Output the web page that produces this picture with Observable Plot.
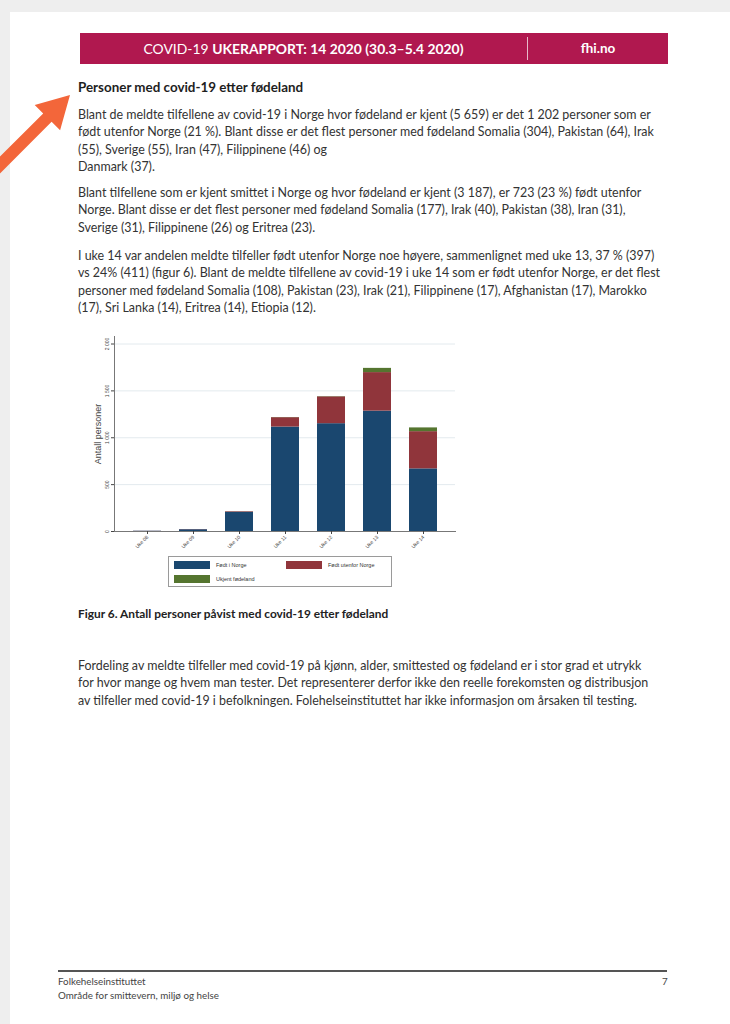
<!DOCTYPE html>
<html lang="no">
<head>
<meta charset="utf-8">
<script src="https://cdn.jsdelivr.net/npm/d3@7"></script>
<script src="https://cdn.jsdelivr.net/npm/@observablehq/plot@0.6"></script>
<style>
  html, body { margin: 0; padding: 0; }
  body { width: 730px; height: 1024px; position: relative; overflow: hidden; background: #fff;
         font-family: Lato, "Open Sans", sans-serif; color: #333; }
  .abs { position: absolute; white-space: nowrap; }
  .band-top { left: 0; top: 0; width: 730px; height: 12px; background: #eeeeee; }
  .band-left { left: 0; top: 0; width: 10px; height: 1024px; background: #eeeeee; }
  .header { left: 80px; top: 33px; width: 588px; height: 31px; background: #b0184f; color: #fff; }
  .header .title { position: absolute; left: 0; width: 447px; top: 0; line-height: 31px; text-align: center; font-size: 13.9px; }
  .header .title b { font-weight: 700; }
  .header .sep { position: absolute; left: 447px; top: 4px; width: 1px; height: 23px; background: rgba(255,255,255,0.7); }
  .header .site { position: absolute; left: 448px; width: 140px; top: 0; line-height: 31px; text-align: center; font-size: 13.5px; font-weight: 700; }
  h2 { margin: 0; font-size: 13.4px; font-weight: 700; color: #1e1e1e; }
  .para { font-size: 12.45px; line-height: 17.3px; color: #333; }
  .caption { font-size: 11.9px; font-weight: 700; color: #222; }
  .footer-rule { left: 58px; top: 970px; width: 609px; height: 2px; background: #555; }
  .footer { font-size: 9.8px; color: #444; }
  #legend { left: 168px; top: 556px; width: 224px; height: 31px; border: 1px solid #9a9a9a; box-sizing: border-box; background: #fff; }
  #legend .item { position: absolute; display: flex; align-items: center; font-family: "Liberation Sans", Arial, sans-serif; font-size: 5.5px; color: #333; }
  #legend .sw { width: 36px; height: 8px; margin-right: 6px; }
</style>
</head>
<body>
<div class="abs band-top"></div>
<div class="abs band-left"></div>

<div class="abs header">
  <div class="title">COVID-19 <b>UKERAPPORT: 14 2020 (30.3–5.4 2020)</b></div>
  <div class="sep"></div>
  <div class="site">fhi.no</div>
</div>

<svg class="abs" style="left:0;top:0" width="90" height="190" viewBox="0 0 90 190">
  <polygon fill="#f3663a" points="-5,161.6 43.2,113.4 34.7,104.9 70,95 60.1,130.3 51.6,121.8 -5,178.4"/>
</svg>

<div class="abs" style="left:78px;top:79px"><h2>Personer med covid-19 etter fødeland</h2></div>

<div class="abs para" style="left:78px;top:106px">Blant de meldte tilfellene av covid-19 i Norge hvor fødeland er kjent (5 659) er det 1 202 personer som er<br>født utenfor Norge (21 %). Blant disse er det flest personer med fødeland Somalia (304), Pakistan (64), Irak<br>(55), Sverige (55), Iran (47), Filippinene (46) og<br>Danmark (37).</div>

<div class="abs para" style="left:78px;top:184px">Blant tilfellene som er kjent smittet i Norge og hvor fødeland er kjent (3 187), er 723 (23 %) født utenfor<br>Norge. Blant disse er det flest personer med fødeland Somalia (177), Irak (40), Pakistan (38), Iran (31),<br>Sverige (31), Filippinene (26) og Eritrea (23).</div>

<div class="abs para" style="left:78px;top:247px">I uke 14 var andelen meldte tilfeller født utenfor Norge noe høyere, sammenlignet med uke 13, 37 % (397)<br>vs 24% (411) (figur 6). Blant de meldte tilfellene av covid-19 i uke 14 som er født utenfor Norge, er det flest<br>personer med fødeland Somalia (108), Pakistan (23), Irak (21), Filippinene (17), Afghanistan (17), Marokko<br>(17), Sri Lanka (14), Eritrea (14), Etiopia (12).</div>

<div id="chart" class="abs" style="left:60px;top:330px"></div>
<div id="legend" class="abs"></div>

<div class="abs caption" style="left:78px;top:606px">Figur 6. Antall personer påvist med covid-19 etter fødeland</div>

<div class="abs para" style="left:78px;top:657px">Fordeling av meldte tilfeller med covid-19 på kjønn, alder, smittested og fødeland er i stor grad et utrykk<br>for hvor mange og hvem man tester. Det representerer derfor ikke den reelle forekomsten og distribusjon<br>av tilfeller med covid-19 i befolkningen. Folehelseinstituttet har ikke informasjon om årsaken til testing.</div>

<div class="abs footer-rule"></div>
<div class="abs footer" style="left:58px;top:975px">Folkehelseinstituttet</div>
<div class="abs footer" style="left:662px;top:975px">7</div>
<div class="abs footer" style="left:58px;top:989px">Område for smittevern, miljø og helse</div>

<script>
// Weekly counts of confirmed cases by country of birth
const weeks = ["Uke 08", "Uke 09", "Uke 10", "Uke 11", "Uke 12", "Uke 13", "Uke 14"];
const bornInNorway = [3, 19, 205, 1114, 1150, 1284, 668];
const bornAbroad = [1, 2, 6, 100, 286, 411, 397];
const unknownBirthplace = [0, 0, 1, 2, 3, 45, 40];

const groups = ["Født i Norge", "Født utenfor Norge", "Ukjent fødeland"];
const groupColors = ["#1a476f", "#90353b", "#55752f"];

const yTicks = [0, 500, 1000, 1500, 2000];
const yTickLabels = ["0", "500", "1 000", "1 500", "2 000"];

const series = [bornInNorway, bornAbroad, unknownBirthplace];
const rows = weeks.flatMap((week, i) =>
  groups.map((group, g) => ({week, group, count: series[g][i]}))
);

const chart = Plot.plot({
  width: 400,
  height: 228,
  marginLeft: 54,
  marginRight: 5,
  marginTop: 6,
  marginBottom: 27,
  style: {fontFamily: "'Liberation Sans', Arial, sans-serif", background: "#fff", color: "#444"},
  x: {domain: weeks, paddingInner: 0.4, paddingOuter: 0.33, label: null},
  y: {domain: [0, 2080], label: null},
  color: {domain: groups, range: groupColors},
  marks: [
    Plot.gridY(yTicks.slice(1), {stroke: "#e3eaee", strokeOpacity: 1}),
    Plot.barY(rows, {x: "week", y: "count", fill: "group"}),
    Plot.frame({anchor: "left", stroke: "#777"}),
    Plot.frame({anchor: "bottom", stroke: "#777"}),
    Plot.axisY({
      ticks: yTicks,
      tickFormat: (d) => yTickLabels[yTicks.indexOf(d)],
      tickSize: 3,
      tickPadding: 3,
      tickRotate: -90,
      fontSize: 5,
      label: null
    }),
    Plot.axisY({
      ticks: [],
      label: "Antall personer",
      labelAnchor: "center",
      labelArrow: "none",
      labelOffset: 20,
      fontSize: 9
    }),
    Plot.axisX({tickRotate: -45, tickSize: 3, tickPadding: 2, fontSize: 5, label: null})
  ]
});
document.getElementById("chart").append(chart);

// Legend box built from the chart's colour scale
const color = chart.scale("color");
const legend = document.getElementById("legend");
const slots = [{left: 5, top: 4}, {left: 117, top: 4}, {left: 5, top: 18}];
color.domain.forEach((name, i) => {
  const item = document.createElement("div");
  item.className = "item";
  item.style.left = slots[i].left + "px";
  item.style.top = slots[i].top + "px";
  const sw = document.createElement("div");
  sw.className = "sw";
  sw.style.background = color.range[i];
  const label = document.createElement("span");
  label.textContent = name;
  item.append(sw, label);
  legend.append(item);
});
</script>
</body>
</html>
